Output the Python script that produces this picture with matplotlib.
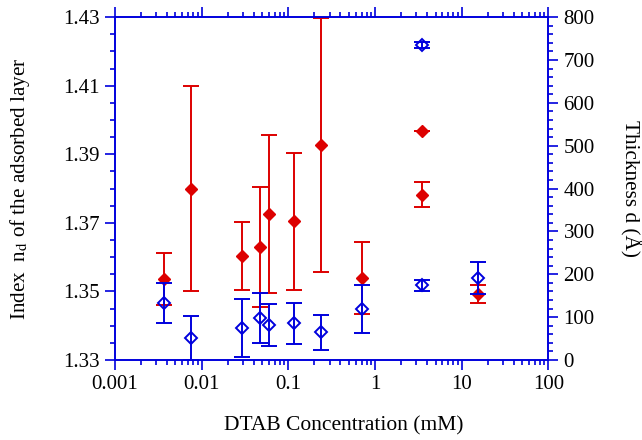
import numpy as np
import matplotlib
matplotlib.use("Agg")
import matplotlib.pyplot as plt
from matplotlib.ticker import MultipleLocator, LogLocator, NullFormatter

plt.rcParams['font.family'] = ['Liberation Serif', 'DejaVu Serif']
plt.rcParams['mathtext.fontset'] = 'stix'

# DTAB concentration (mM)
conc_idx = [0.0037, 0.0075, 0.029, 0.047, 0.06, 0.117, 0.24, 0.71, 3.5, 3.5, 15.4]
index_nd = [1.3536, 1.3800, 1.3603, 1.3630, 1.3726, 1.3705, 1.3927, 1.3539, 1.3968, 1.3782, 1.3492]
index_err = [0.0075, 0.030, 0.010, 0.0175, 0.023, 0.020, 0.037, 0.0105, 0.0, 0.0037, 0.0027]

conc_thk = [0.0037, 0.0075, 0.029, 0.047, 0.06, 0.117, 0.24, 0.71, 3.5, 3.5, 15.4]
thickness = [133, 51, 75, 98, 82, 86, 65, 119, 735, 174, 191]
thickness_err = [47, 51, 68, 58, 49, 48, 41, 57, 8, 12, 38]

red = '#dd0000'
blue = '#0000dd'

fig = plt.figure(figsize=(6.42, 4.4), dpi=100)
ax = fig.add_axes([0.179, 0.182, 0.675, 0.779])
ax2 = ax.twinx()

ax.errorbar(conc_idx, index_nd, yerr=index_err, fmt='D', color=red, ms=6.5,
            mec=red, mfc=red, elinewidth=1.4, capsize=6, capthick=1.4)
ax2.errorbar(conc_thk, thickness, yerr=thickness_err, fmt='D', color=blue, ms=6.5,
             mec=blue, mfc='none', mew=1.4, elinewidth=1.4, capsize=6, capthick=1.4)

ax.set_xscale('log')
ax.set_xlim(0.001, 100)
ax.set_ylim(1.33, 1.43)
ax2.set_ylim(0, 800)

ax.xaxis.set_minor_locator(LogLocator(base=10, subs=np.arange(2, 10), numticks=20))
ax.xaxis.set_minor_formatter(NullFormatter())
ax.set_xticks([0.001, 0.01, 0.1, 1, 10, 100])
ax.set_xticklabels(['0.001', '0.01', '0.1', '1', '10', '100'])

ax.yaxis.set_minor_locator(MultipleLocator(0.005))
ax.set_yticks([1.33, 1.35, 1.37, 1.39, 1.41, 1.43])
ax.set_yticklabels(['1.33', '1.35', '1.37', '1.39', '1.41', '1.43'])

ax2.yaxis.set_major_locator(MultipleLocator(100))
ax2.yaxis.set_minor_locator(MultipleLocator(20))

for a in (ax, ax2):
    for s in a.spines.values():
        s.set_color(blue)
        s.set_linewidth(1.2)

ax.tick_params(axis='both', which='major', direction='out', length=7, width=1.2,
               color=blue, labelsize=15, top=True, pad=4)
ax.tick_params(axis='both', which='minor', direction='out', length=3.5, width=1.2,
               color=blue, top=True)
ax2.tick_params(axis='y', which='major', direction='out', length=7, width=1.2,
                color=blue, labelsize=15, pad=4)
ax2.tick_params(axis='y', which='minor', direction='out', length=3.5, width=1.2, color=blue)

ax.set_xlabel('DTAB Concentration (mM)', fontsize=15.5)
ax.xaxis.set_label_coords(0.529, -0.165)
ax.set_ylabel(r'Index  n$_\mathrm{d}$ of the adsorbed layer', fontsize=15.2, labelpad=22)
ax2.set_ylabel('Thickness d (Å)', fontsize=15.3, rotation=270, labelpad=33)

fig.savefig('out.png', dpi=100)
